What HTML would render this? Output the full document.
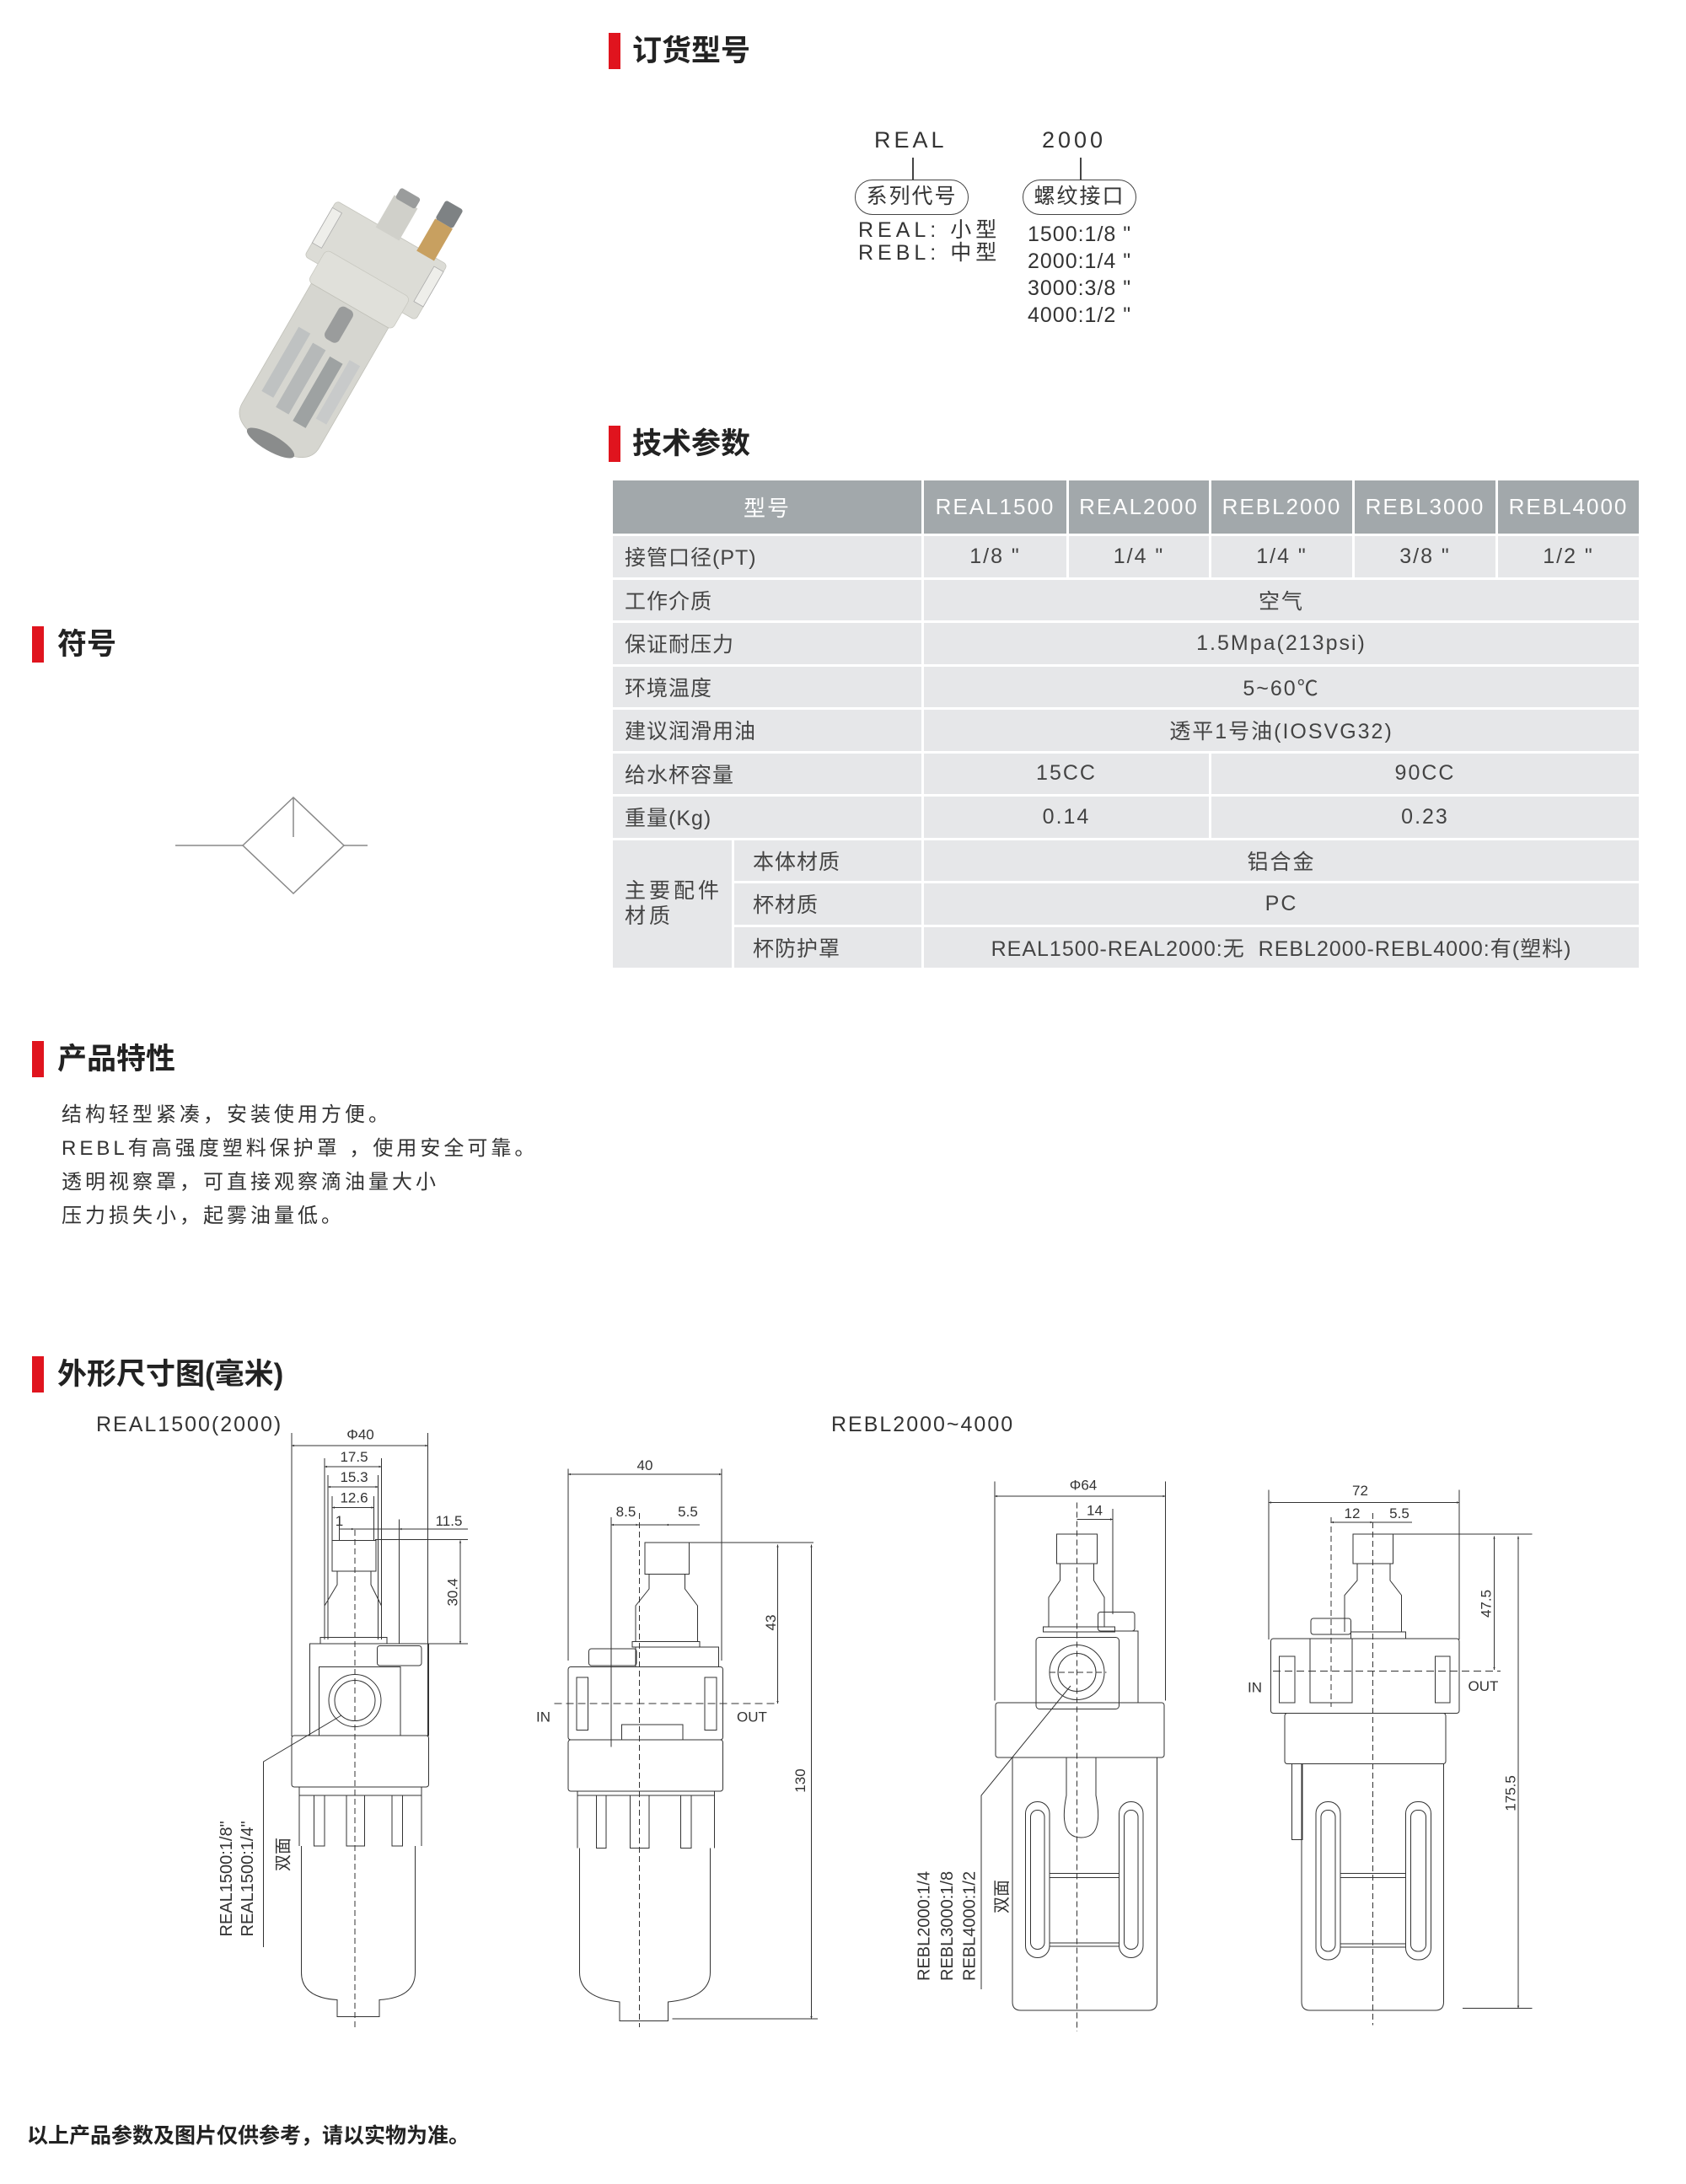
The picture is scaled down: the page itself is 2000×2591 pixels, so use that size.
<!DOCTYPE html>
<html><head><meta charset="utf-8">
<style>
*{margin:0;padding:0;box-sizing:border-box}
body{width:2000px;height:2591px;position:relative;background:#fff;font-family:"Liberation Sans","Noto Sans CJK SC",sans-serif;color:#333;overflow:hidden}
.a{position:absolute;white-space:nowrap}
.bar{position:absolute;background:#e0141e;width:14px}
.h{position:absolute;font-weight:bold;font-size:35px;color:#222;white-space:nowrap;line-height:1}
table{position:absolute;left:724px;top:567px;width:1220px;border-collapse:collapse;table-layout:fixed;font-size:25px;color:#444}
td{border:3px solid #fff;background:#e6e7e9;height:51.5px;text-align:center;letter-spacing:2px;padding:0}
td.l{text-align:left;padding-left:14px;letter-spacing:1px}
td.s{text-align:left;padding-left:22px;letter-spacing:1px}
tr.hd td{background:#a2a8ab;color:#fff;height:66px;font-size:26px;letter-spacing:2px}
.ft{font-size:24px;letter-spacing:4px;color:#333}
</style></head><body>

<div class="bar" style="left:722px;top:39px;height:43px"></div>
<div class="h" style="left:750px;top:43px">订货型号</div>
<div class="bar" style="left:722px;top:505px;height:43px"></div>
<div class="h" style="left:750px;top:509px">技术参数</div>
<div class="bar" style="left:38px;top:743px;height:43px"></div>
<div class="h" style="left:68px;top:747px">符号</div>
<div class="bar" style="left:38px;top:1235px;height:43px"></div>
<div class="h" style="left:68px;top:1239px">产品特性</div>
<div class="bar" style="left:38px;top:1609px;height:43px"></div>
<div class="h" style="left:68px;top:1613px">外形尺寸图(毫米)</div>

<div class="a" style="left:1037px;top:151px;font-size:27px;letter-spacing:4px">REAL</div>
<div class="a" style="left:1236px;top:151px;font-size:27px;letter-spacing:4px">2000</div>
<div class="a" style="left:1014px;top:213px;width:135px;height:42px;border:1.5px solid #444;border-radius:21px;font-size:25px;text-align:center;line-height:39px;letter-spacing:2px">系列代号</div>
<div class="a" style="left:1213px;top:213px;width:135px;height:42px;border:1.5px solid #444;border-radius:21px;font-size:25px;text-align:center;line-height:39px;letter-spacing:2px">螺纹接口</div>
<div class="a" style="left:1082px;top:187px;width:1.5px;height:26px;background:#444"></div>
<div class="a" style="left:1281px;top:187px;width:1.5px;height:26px;background:#444"></div>
<div class="a" style="left:1018px;top:260px;font-size:25px;letter-spacing:5px;line-height:27px">REAL: 小型<br>REBL: 中型</div>
<div class="a" style="left:1219px;top:262px;font-size:25px;line-height:32px;letter-spacing:1px">1500:1/8 "<br>2000:1/4 "<br>3000:3/8 "<br>4000:1/2 "</div>

<table>
<colgroup><col style="width:144px"><col style="width:225px"><col style="width:172px"><col style="width:169px"><col style="width:170px"><col style="width:170px"><col style="width:170px"></colgroup>
<tr class="hd"><td colspan="2">型号</td><td>REAL1500</td><td>REAL2000</td><td>REBL2000</td><td>REBL3000</td><td>REBL4000</td></tr>
<tr><td colspan="2" class="l">接管口径(PT)</td><td>1/8 "</td><td>1/4 "</td><td>1/4 "</td><td>3/8 "</td><td>1/2 "</td></tr>
<tr><td colspan="2" class="l">工作介质</td><td colspan="5">空气</td></tr>
<tr><td colspan="2" class="l">保证耐压力</td><td colspan="5">1.5Mpa(213psi)</td></tr>
<tr><td colspan="2" class="l">环境温度</td><td colspan="5">5~60℃</td></tr>
<tr><td colspan="2" class="l">建议润滑用油</td><td colspan="5">透平1号油(IOSVG32)</td></tr>
<tr><td colspan="2" class="l">给水杯容量</td><td colspan="2">15CC</td><td colspan="3">90CC</td></tr>
<tr><td colspan="2" class="l">重量(Kg)</td><td colspan="2">0.14</td><td colspan="3">0.23</td></tr>
<tr><td rowspan="3" class="l" style="letter-spacing:4px;line-height:30px">主要配件<br>材质</td><td class="s">本体材质</td><td colspan="5">铝合金</td></tr>
<tr><td class="s">杯材质</td><td colspan="5">PC</td></tr>
<tr><td class="s">杯防护罩</td><td colspan="5" style="letter-spacing:1px">REAL1500-REAL2000:无&nbsp;&nbsp;REBL2000-REBL4000:有(塑料)</td></tr>
</table>

<div class="a ft" style="left:73px;top:1303px;line-height:40px">结构轻型紧凑，安装使用方便。<br>REBL有高强度塑料保护罩 ，使用安全可靠。<br>透明视察罩，可直接观察滴油量大小<br>压力损失小，起雾油量低。</div>

<div class="a" style="left:114px;top:1676px;font-size:25px;letter-spacing:2px">REAL1500(2000)</div>
<div class="a" style="left:986px;top:1676px;font-size:25px;letter-spacing:2px">REBL2000~4000</div>
<div class="a" style="left:32px;top:2514px;font-size:25px;font-weight:bold;color:#222">以上产品参数及图片仅供参考，请以实物为准。</div>

<svg width="2000" height="2591" style="position:absolute;left:0;top:0" xmlns="http://www.w3.org/2000/svg">
<defs>
<marker id="ar" viewBox="0 0 10 10" refX="10" refY="5" markerWidth="12" markerHeight="6" markerUnits="userSpaceOnUse" orient="auto-start-reverse"><path d="M0,1 L10,5 L0,9z" fill="#333"/></marker>
</defs>

<g transform="translate(405,380) scale(0.8) rotate(30)">
<rect x="-95" y="-150" width="190" height="95" rx="6" fill="#dcdcd6" stroke="#c4c4bc"/>
<rect x="-25" y="-200" width="40" height="55" fill="#d0d0ca"/>
<rect x="-22" y="-215" width="34" height="18" rx="4" fill="#9a9c9c"/>
<rect x="45" y="-200" width="30" height="55" fill="#c8a060"/>
<rect x="45" y="-232" width="30" height="32" rx="4" fill="#7e8284"/>
<rect x="-95" y="-138" width="16" height="60" fill="#eeeeea" stroke="#aaa"/>
<rect x="79" y="-138" width="16" height="60" fill="#eeeeea" stroke="#aaa"/>
<rect x="-72" y="-80" width="144" height="55" rx="8" fill="#e0e0da" stroke="#c8c8c0"/>
<path d="M-66,-25 L66,-25 L66,180 Q66,215 0,215 Q-66,215 -66,180 Z" fill="#d6d6d0" stroke="#c0c0b8"/>
<rect x="-50" y="40" width="20" height="110" fill="#bfc2c2"/>
<rect x="-20" y="50" width="22" height="110" fill="#b6b9b9"/>
<rect x="12" y="55" width="22" height="110" fill="#9ea2a2"/>
<rect x="40" y="45" width="18" height="100" fill="#c8caca"/>
<rect x="-12" y="-20" width="24" height="55" rx="8" fill="#9a9c9c"/>
<ellipse cx="0" cy="210" rx="40" ry="12" fill="#8a8c8c"/>
</g>

<g stroke="#888" stroke-width="1.5" fill="none">
<line x1="208" y1="1003" x2="288" y2="1003"/>
<line x1="408" y1="1003" x2="436" y2="1003"/>
<path d="M288,1003 L348,946 L408,1003 L348,1060 Z"/>
<line x1="348" y1="946" x2="348" y2="993"/>
</g>

<g transform="translate(230,1650) scale(0.5)" stroke="#333" stroke-width="2" fill="none" font-family="Liberation Sans, sans-serif">
<line x1="232" y1="100" x2="232" y2="820"/><line x1="555" y1="100" x2="555" y2="820"/>
<line x1="232" y1="130" x2="555" y2="130" marker-start="url(#ar)" marker-end="url(#ar)"/>
<line x1="310" y1="160" x2="310" y2="590"/><line x1="445" y1="160" x2="445" y2="590"/>
<line x1="310" y1="180" x2="445" y2="180" marker-start="url(#ar)" marker-end="url(#ar)"/>
<line x1="318" y1="200" x2="318" y2="590"/><line x1="437" y1="200" x2="437" y2="590"/>
<line x1="318" y1="228" x2="437" y2="228" marker-start="url(#ar)" marker-end="url(#ar)"/>
<line x1="328" y1="250" x2="328" y2="355"/><line x1="427" y1="250" x2="427" y2="355"/>
<line x1="328" y1="277" x2="427" y2="277" marker-start="url(#ar)" marker-end="url(#ar)"/>
<line x1="345" y1="300" x2="345" y2="355"/><line x1="487" y1="305" x2="487" y2="600"/>
<line x1="345" y1="328" x2="380" y2="328" marker-end="url(#ar)"/>
<line x1="380" y1="328" x2="650" y2="328"/><line x1="530" y1="328" x2="487" y2="328" marker-end="url(#ar)"/>
<line x1="430" y1="353" x2="650" y2="353"/><line x1="460" y1="600" x2="650" y2="600"/>
<line x1="632" y1="355" x2="632" y2="600" marker-start="url(#ar)" marker-end="url(#ar)"/>
<g fill="#333" stroke="none" font-size="34">
<text x="395" y="115" text-anchor="middle">Φ40</text>
<text x="380" y="168" text-anchor="middle">17.5</text>
<text x="380" y="216" text-anchor="middle">15.3</text>
<text x="380" y="265" text-anchor="middle">12.6</text>
<text x="345" y="320" text-anchor="middle">1</text>
<text x="605" y="320" text-anchor="middle">11.5</text>
<text transform="translate(625,478) rotate(-90)" text-anchor="middle">30.4</text>
</g>
<rect x="328" y="355" width="104" height="73"/>
<path d="M340,428 L340,460 L310,510 L310,585 M420,428 L420,460 L445,510 L445,585"/>
<rect x="300" y="585" width="158" height="15"/>
<rect x="275" y="600" width="282" height="218"/>
<rect x="297" y="655" width="193" height="163"/>
<circle cx="382" cy="735" r="62"/><circle cx="382" cy="735" r="48"/>
<rect x="435" y="605" width="105" height="47" rx="6"/>
<rect x="232" y="818" width="325" height="122" rx="6"/>
<path d="M250,940 L250,1080 M540,940 L540,1080 M250,960 L540,960"/>
<path d="M285,960 V1080 H310 V960 M362,960 V1080 H405 V960 M470,960 V1080 H495 V960"/>
<path d="M255,1080 L255,1380 Q255,1440 340,1445 L340,1485 L440,1485 L440,1445 Q525,1440 525,1380 L525,1080"/>
<line x1="382" y1="330" x2="382" y2="1515" stroke-dasharray="14,8"/>
<path d="M350,770 L165,880 L165,1320"/>
<g fill="#333" stroke="none" font-size="40">
<text transform="translate(90,1295) rotate(-90)">REAL1500:1/8"</text>
<text transform="translate(140,1295) rotate(-90)">REAL1500:1/4"</text>
<text transform="translate(225,1140) rotate(-90)" font-family="Noto Sans CJK SC, sans-serif">双面</text>
</g>

<line x1="888" y1="185" x2="888" y2="640"/><line x1="1252" y1="185" x2="1252" y2="640"/>
<line x1="888" y1="198" x2="1252" y2="198" marker-start="url(#ar)" marker-end="url(#ar)"/>
<line x1="990" y1="300" x2="990" y2="845"/>
<line x1="990" y1="318" x2="1055" y2="318" marker-start="url(#ar)" marker-end="url(#ar)"/>
<line x1="1055" y1="318" x2="1200" y2="318"/><line x1="1140" y1="318" x2="1120" y2="318" marker-end="url(#ar)"/>
<line x1="1175" y1="360" x2="1470" y2="360"/><line x1="1135" y1="1490" x2="1480" y2="1490"/>
<line x1="1385" y1="365" x2="1385" y2="742" marker-start="url(#ar)" marker-end="url(#ar)"/>
<line x1="1465" y1="365" x2="1465" y2="1490" marker-start="url(#ar)" marker-end="url(#ar)"/>
<line x1="855" y1="742" x2="1385" y2="742" stroke-dasharray="18,10"/>
<line x1="1057" y1="290" x2="1057" y2="1510" stroke-dasharray="14,8"/>
<g fill="#333" stroke="none" font-size="34">
<text x="1070" y="188" text-anchor="middle">40</text>
<text x="1025" y="298" text-anchor="middle">8.5</text>
<text x="1172" y="298" text-anchor="middle">5.5</text>
<text transform="translate(1380,550) rotate(-90)" text-anchor="middle">43</text>
<text transform="translate(1450,925) rotate(-90)" text-anchor="middle">130</text>
<text x="812" y="785">IN</text><text x="1288" y="785">OUT</text>
</g>
<rect x="1070" y="360" width="105" height="75"/>
<path d="M1080,435 L1080,470 L1048,510 L1048,595 M1165,435 L1165,470 L1195,510 L1195,595"/>
<rect x="1040" y="595" width="160" height="13"/>
<rect x="1048" y="608" width="197" height="47"/>
<rect x="937" y="612" width="113" height="40" rx="6"/>
<rect x="888" y="655" width="367" height="173" rx="6"/>
<rect x="908" y="680" width="27" height="125"/><rect x="1212" y="680" width="28" height="125"/>
<rect x="1015" y="792" width="145" height="36"/>
<rect x="888" y="828" width="367" height="122" rx="6"/>
<path d="M910,950 V1085 M1235,950 V1085 M955,960 V1085 H978 V960 M1035,960 V1085 H1080 V960 M1155,960 V1085 H1180 V960 M910,960 H1235"/>
<path d="M915,1085 L915,1380 Q915,1440 1010,1450 L1010,1495 L1125,1495 L1125,1450 Q1225,1440 1225,1380 L1225,1085"/>
</g>

<g transform="translate(1050,1650) scale(0.5)" stroke="#333" stroke-width="2" fill="none" font-family="Liberation Sans, sans-serif">
<line x1="260" y1="215" x2="260" y2="735"/><line x1="665" y1="215" x2="665" y2="735"/>
<line x1="260" y1="250" x2="665" y2="250" marker-start="url(#ar)" marker-end="url(#ar)"/>
<line x1="540" y1="280" x2="540" y2="530"/>
<line x1="455" y1="305" x2="540" y2="305" marker-end="url(#ar)"/>
<line x1="455" y1="265" x2="455" y2="1520" stroke-dasharray="14,8"/>
<line x1="390" y1="668" x2="525" y2="668" stroke-dasharray="14,8"/>
<g fill="#333" stroke="none" font-size="34">
<text x="470" y="235" text-anchor="middle">Φ64</text>
<text x="497" y="295" text-anchor="middle">14</text>
</g>
<rect x="407" y="340" width="96" height="70"/>
<path d="M415,410 L415,450 L388,490 L388,560 M495,410 L495,450 L520,490 L520,560"/>
<rect x="375" y="560" width="170" height="12"/>
<rect x="505" y="525" width="87" height="45" rx="6"/>
<path d="M555,570 H600 V740"/>
<rect x="358" y="585" width="197" height="170" rx="8"/>
<circle cx="455" cy="668" r="65"/><circle cx="455" cy="668" r="45"/>
<rect x="262" y="740" width="400" height="130" rx="6"/>
<path d="M302,870 L302,1450 Q302,1470 322,1470 L625,1470 Q645,1470 645,1450 L645,870"/>
<path d="M430,870 L430,960 Q410,1060 465,1060 Q520,1060 500,960 L500,870"/>
<rect x="333" y="975" width="57" height="370" rx="28"/><rect x="345" y="995" width="33" height="330" rx="16"/>
<rect x="555" y="975" width="57" height="370" rx="28"/><rect x="567" y="995" width="33" height="330" rx="16"/>
<path d="M390,1145 H555 M390,1155 H555 M390,1310 H555 M390,1318 H555"/>
<path d="M440,700 L228,960 L228,1420"/>
<g fill="#333" stroke="none" font-size="40">
<text transform="translate(105,1400) rotate(-90)">REBL2000:1/4</text>
<text transform="translate(160,1400) rotate(-90)">REBL3000:1/8</text>
<text transform="translate(213,1400) rotate(-90)">REBL4000:1/2</text>
<text transform="translate(290,1240) rotate(-90)" font-family="Noto Sans CJK SC, sans-serif">双面</text>
</g>

<line x1="910" y1="235" x2="910" y2="590"/><line x1="1362" y1="235" x2="1362" y2="590"/>
<line x1="910" y1="265" x2="1362" y2="265" marker-start="url(#ar)" marker-end="url(#ar)"/>
<line x1="1058" y1="300" x2="1058" y2="750" stroke-dasharray="14,8"/>
<line x1="1058" y1="312" x2="1157" y2="312" marker-start="url(#ar)" marker-end="url(#ar)"/>
<line x1="1157" y1="312" x2="1250" y2="312"/>
<line x1="1157" y1="290" x2="1157" y2="1505" stroke-dasharray="14,8"/>
<line x1="920" y1="665" x2="1460" y2="665" stroke-dasharray="18,10"/>
<line x1="1205" y1="340" x2="1535" y2="340"/><line x1="1370" y1="1465" x2="1535" y2="1465"/>
<line x1="1445" y1="345" x2="1445" y2="662" marker-start="url(#ar)" marker-end="url(#ar)"/>
<line x1="1502" y1="345" x2="1502" y2="1465" marker-start="url(#ar)" marker-end="url(#ar)"/>
<g fill="#333" stroke="none" font-size="34">
<text x="1127" y="248" text-anchor="middle">72</text>
<text x="1108" y="302" text-anchor="middle">12</text>
<text x="1220" y="302" text-anchor="middle">5.5</text>
<text transform="translate(1437,505) rotate(-90)" text-anchor="middle">47.5</text>
<text transform="translate(1495,955) rotate(-90)" text-anchor="middle">175.5</text>
<text x="860" y="715">IN</text><text x="1383" y="712">OUT</text>
</g>
<rect x="1110" y="340" width="95" height="70"/>
<path d="M1120,410 L1120,450 L1090,485 L1090,572 M1198,410 L1198,450 L1225,485 L1225,572"/>
<rect x="1105" y="572" width="130" height="16"/>
<rect x="1010" y="540" width="95" height="38" rx="6"/>
<rect x="915" y="588" width="447" height="177" rx="6"/>
<rect x="1008" y="588" width="100" height="152"/>
<rect x="935" y="630" width="37" height="110"/><rect x="1305" y="630" width="35" height="110"/>
<rect x="948" y="765" width="382" height="120" rx="6"/>
<rect x="965" y="885" width="25" height="180"/>
<path d="M988,885 L988,1450 Q988,1470 1008,1470 L1305,1470 Q1325,1470 1325,1450 L1325,885"/>
<rect x="1022" y="975" width="58" height="375" rx="28"/><rect x="1034" y="995" width="34" height="335" rx="16"/>
<rect x="1235" y="975" width="60" height="375" rx="28"/><rect x="1247" y="995" width="36" height="335" rx="16"/>
<path d="M1080,1145 H1235 M1080,1155 H1235 M1080,1312 H1235 M1080,1320 H1235"/>
</g>
</svg>
</body></html>
